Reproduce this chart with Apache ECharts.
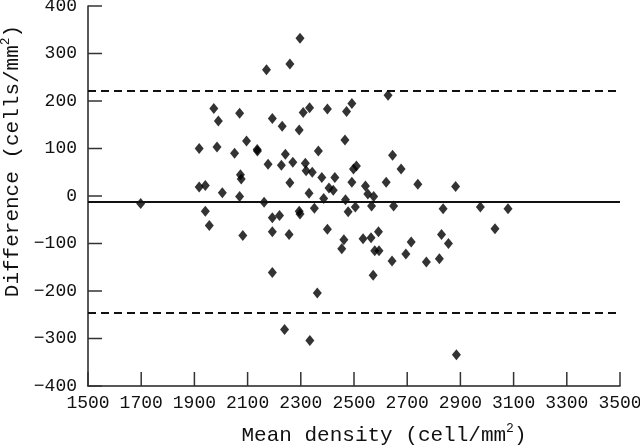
<!DOCTYPE html>
<html>
<head>
<meta charset="utf-8">
<script src="https://cdn.jsdelivr.net/npm/echarts@6/dist/echarts.min.js"></script>
<style>html,body{margin:0;padding:0;background:#fff}#c{width:640px;height:445px}</style>
</head>
<body>
<div id="c"></div>
<script>
// Mean density (cell/mm^2)
var meanDensity = [1698,1918,1918,1941,1941,1956,1973,1985,1990,2005,2051,2070,2070,2073,2076,2082,2096,2136,2137,2162,2171,2177,2193,2193,2193,2193,2220,2227,2230,2239,2242,2256,2259,2259,2270,2294,2294,2297,2297,2309,2317,2320,2331,2333,2334,2343,2351,2362,2366,2379,2386,2400,2400,2406,2422,2428,2454,2462,2466,2468,2472,2478,2492,2492,2498,2505,2509,2534,2543,2552,2564,2566,2572,2574,2578,2592,2594,2621,2628,2643,2645,2649,2677,2695,2715,2740,2772,2821,2829,2835,2855,2882,2885,2975,3030,3079];
// Difference (cells/mm^2)
var difference = [-16,100,19,22,-32,-62,184,103,158,7,90,174,-1,45,36,-83,116,98,95,-13,266,67,163,-46,-75,-161,-41,65,147,-281,88,-81,278,28,71,139,-32,-38,332,176,69,53,6,186,-304,50,-26,-204,95,39,-5,183,-70,17,12,39,-111,-92,118,-8,178,-33,195,29,57,-23,63,-90,21,4,-88,-21,-167,-1,-115,-75,-115,29,212,-137,86,-21,57,-122,-97,25,-139,-132,-81,-27,-100,20,-334,-23,-69,-27];
var meanDiff = -12;
var upperLimit = 222;
var lowerLimit = -246;
// Tick values
var xTickValues = [1500, 1700, 1900, 2100, 2300, 2500, 2700, 2900, 3100, 3300, 3500];
var yTickValues = [-400, -300, -200, -100, 0, 100, 200, 300, 400];

var xMin = xTickValues[0], xMax = xTickValues[xTickValues.length - 1];
var yMin = yTickValues[0], yMax = yTickValues[yTickValues.length - 1];
var pts = meanDensity.map(function (x, i) { return [x, difference[i]]; });
var font = '"Liberation Mono", "Courier New", monospace';
var nameRich = {
  a: {fontFamily: font, fontSize: 21, color: '#111', lineHeight: 24, verticalAlign: 'bottom'},
  s: {fontFamily: font, fontSize: 13, color: '#111', lineHeight: 24, verticalAlign: 'top', padding: [0, 0, 10, 0]}
};
function tickSeries(data, dx, dy) {
  return {
    type: 'custom', silent: true, clip: false, z: 3,
    encode: {x: 0, y: 1},
    data: data,
    renderItem: function (params, api) {
      var p = api.coord([api.value(0), api.value(1)]);
      return {
        type: 'line',
        shape: {x1: p[0], y1: p[1], x2: p[0] + dx, y2: p[1] + dy},
        style: {stroke: '#333', lineWidth: 1.5}
      };
    }
  };
}
var chart = echarts.init(document.getElementById('c'));
chart.setOption({
  animation: false,
  grid: {left: 88, right: 20, top: 6, bottom: 59, outerBoundsMode: 'none'},
  xAxis: {
    type: 'value', position: 'bottom', min: xMin, max: xMax, interval: xTickValues[1] - xTickValues[0],
    axisLine: {show: true, onZero: false, lineStyle: {color: '#222', width: 1.5}},
    axisTick: {show: false},
    splitLine: {show: false},
    axisLabel: {color: '#111', fontFamily: font, fontSize: 18, margin: 8,
      formatter: function (v) { return String(v); }},
    name: '{a|Mean density (cell/mm}{s|2}{a|)}',
    nameLocation: 'middle', nameGap: 36,
    nameTextStyle: {padding: [0, 0, 0, 60], rich: nameRich}
  },
  yAxis: {
    type: 'value', position: 'left', min: yMin, max: yMax, interval: yTickValues[1] - yTickValues[0],
    axisLine: {show: true, onZero: false, lineStyle: {color: '#222', width: 1.5}},
    axisTick: {show: false},
    splitLine: {show: false},
    axisLabel: {color: '#111', fontFamily: font, fontSize: 18, margin: 11,
      formatter: function (v) { return String(v).replace('-', '\u2212'); }},
    name: '{a|Difference (cells/mm}{s|2}{a|)}',
    nameLocation: 'middle', nameGap: 57, nameRotate: 90,
    nameTextStyle: {padding: [0, 0, 0, 70], rich: nameRich}
  },
  series: [{
    type: 'scatter',
    data: pts,
    symbol: 'diamond',
    symbolSize: [9, 11],
    itemStyle: {color: '#000'},
    markLine: {
      silent: true, symbol: 'none', label: {show: false},
      data: [
        {yAxis: meanDiff, lineStyle: {type: 'solid', color: '#111', width: 1.8}},
        {yAxis: upperLimit, lineStyle: {type: [8, 5], color: '#111', width: 1.8}},
        {yAxis: lowerLimit, lineStyle: {type: [8, 5], color: '#111', width: 1.8}}
      ]
    }
  },
  tickSeries(xTickValues.map(function (v) { return [v, yMin]; }), 0, -14),
  tickSeries(yTickValues.map(function (v) { return [xMin, v]; }), 14, 0)
  ]
});
</script>
</body>
</html>
